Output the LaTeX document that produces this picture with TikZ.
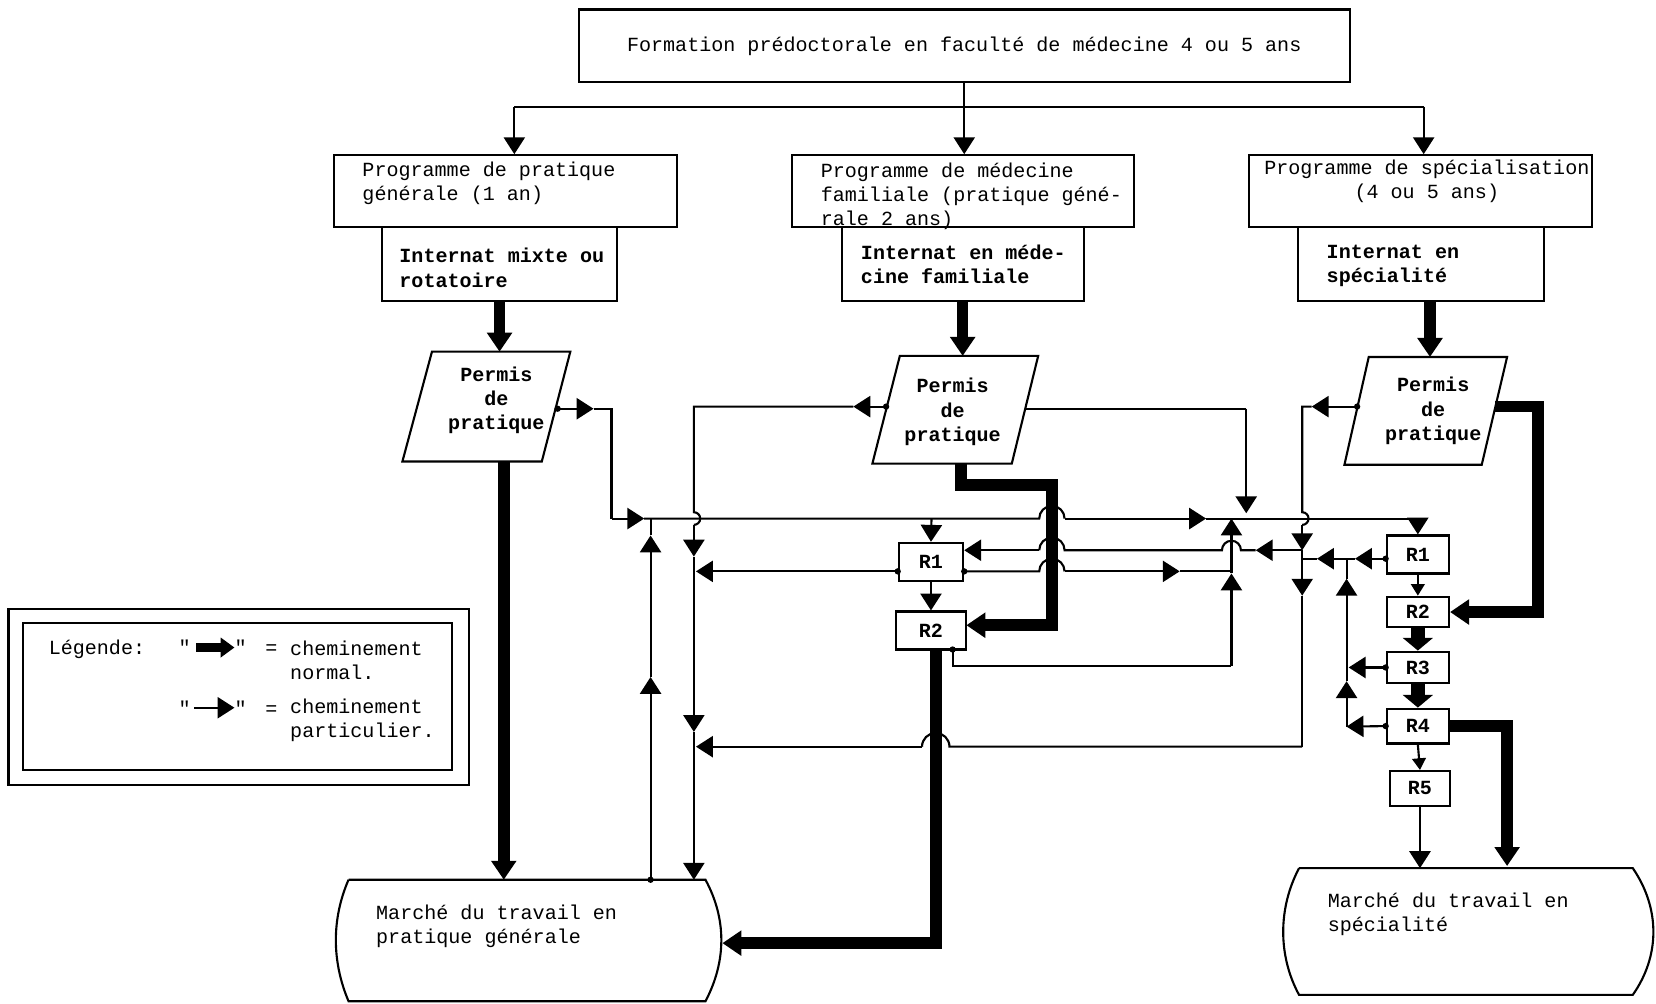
\documentclass[tikz,border=0pt]{standalone}
\usepackage{fontspec}
\setmonofont{Liberation Mono}
\usetikzlibrary{arrows.meta}
\newcommand{\typo}{\ttfamily\fontsize{19}{23}\selectfont}
\tikzset{
	box/.style={draw, line width=2pt, inner sep=0pt},
	txt/.style={inner sep=0pt, align=left, anchor=west},
	heavytxt/.style={font=\typo\bfseries},
	wire/.style={line width=2pt},
	flow/.style={line width=2pt, -{Triangle[length=16pt, width=20pt]}},
	flowsm/.style={line width=2pt, -{Triangle[length=11pt, width=13pt]}},
	heavy/.style={line width=11pt, -{Triangle[length=18pt, width=23pt]}},
	stub/.style={line width=13pt, -{Triangle[length=12pt, width=28pt]}}
}

\begin{document}
\begin{tikzpicture}[x=1pt, y=-1pt, font=\typo]
			%%%%% START %%%%%
			\useasboundingbox (0,0) rectangle (1568,950);
			
			\node[box, minimum width=730pt, minimum height=69pt] (top) at (913,43.5) {Formation prédoctorale en faculté de médecine 4 ou 5 ans};
			
			\node[box, minimum width=325pt, minimum height=68pt] (progGP) at (478.5,181) {};
			\node[box, minimum width=324pt, minimum height=68pt] (progMF) at (912,181) {};
			\node[box, minimum width=324pt, minimum height=68pt] (progSP) at (1345,181) {};
			\node[txt] (progGPt) at (343,173.5) {Programme de pratique\\générale (1 an)};
			\node[txt] (progMFt) at (777,186) {Programme de médecine\\familiale (pratique géné-\\rale 2 ans)};
			\node[txt, align=center, anchor=center] (progSPt) at (1351,171.5) {Programme de spécialisation\\(4 ou 5 ans)};
			
			\node[box, minimum width=222pt, minimum height=70pt] (intGP) at (473,250) {};
			\node[box, minimum width=229pt, minimum height=70pt] (intMF) at (911.5,250) {};
			\node[box, minimum width=233pt, minimum height=70pt] (intSP) at (1345.5,250) {};
			\node[txt, heavytxt] (intGPt) at (378,253.5) {Internat mixte ou\\rotatoire};
			\node[txt, heavytxt] (intMFt) at (815,250.5) {Internat en méde-\\cine familiale};
			\node[txt, heavytxt] (intSPt) at (1256,251.5) {Internat en\\spécialité};
			
			\coordinate (busL) at (487,101);
			\coordinate (busR) at (1348,101);
			\draw[wire] (busL) -- (busR);
			\draw[flow] (top.south) -- (top.south |- progMF.north);
			\draw[flow] (busL) -- (busL |- progGP.north);
			\draw[flow] (busR) -- (busR |- progSP.north);
			
			% permis de pratique
			\draw[wire] (409,333) -- (540,333) -- (513,437) -- (381,437) -- cycle;
			\draw[wire] (852,337) -- (983,337) -- (958,439) -- (826,439) -- cycle;
			\draw[wire] (1296,338) -- (1427,338) -- (1403,440) -- (1273,440) -- cycle;
			\node[txt, heavytxt, align=center, anchor=center] (permGP) at (470,379) {Permis\\de\\pratique};
			\node[txt, heavytxt, align=center, anchor=center] (permMF) at (902,390) {Permis\\de\\pratique};
			\node[txt, heavytxt, align=center, anchor=center] (permSP) at (1357,389) {Permis\\de\\pratique};
			
			\coordinate (pGPtop) at (473,333);
			\coordinate (pGPbot) at (477,437);
			\coordinate (pGPr) at (528,387);
			\coordinate (pMFtop) at (911.5,337);
			\coordinate (pMFbot) at (910,439);
			\coordinate (pMFl) at (839,385);
			\coordinate (pMFr) at (971,387);
			\coordinate (pSPtop) at (1354,338);
			\coordinate (pSPl) at (1285,385);
			\coordinate (pSPr) at (1416,385);
			
			% marches du travail
			\draw[wire] (330,833) -- (668,833) .. controls (688,870) and (688,910) .. (668,948) -- (330,948) .. controls (314,910) and (314,870) .. (330,833);
			\draw[wire] (1230,822) -- (1546,822) .. controls (1572,860) and (1572,905) .. (1546,942) -- (1230,942) .. controls (1210,905) and (1210,860) .. (1230,822);
			\node[txt] (mktGP) at (356,877) {Marché du travail en\\pratique générale};
			\node[txt] (mktSP) at (1257,865.5) {Marché du travail en\\spécialité};
			
			\coordinate (mGPa) at (477,833);
			\coordinate (mGPb) at (616,833);
			\coordinate (mGPc) at (657,833);
			\coordinate (mGPin) at (684,893);
			\coordinate (mSPa) at (1344.5,822);
			\coordinate (mSPb) at (1427,820);
			
			% residences
			\node[box, heavytxt, minimum width=61pt, minimum height=36pt] (R1m) at (881.5,532) {R1};
			\node[box, heavytxt, minimum width=67pt, minimum height=36pt] (R2m) at (881.5,597) {R2};
			\node[box, heavytxt, minimum width=59pt, minimum height=36pt] (R1s) at (1342.5,525) {R1};
			\node[box, heavytxt, minimum width=59pt, minimum height=29pt] (R2s) at (1342.5,579.5) {R2};
			\node[box, heavytxt, minimum width=59pt, minimum height=30pt] (R3s) at (1342.5,632) {R3};
			\node[box, heavytxt, minimum width=59pt, minimum height=33pt] (R4s) at (1342.5,687.5) {R4};
			\node[box, heavytxt, minimum width=57pt, minimum height=33pt] (R5s) at (1344.5,746.5) {R5};
			
			\coordinate (jA) at (579,491);
			\coordinate (jB) at (616,491);
			\coordinate (jC) at (882,491);
			\coordinate (jD) at (1166,491);
			\coordinate (jE) at (1342.5,491);
			\coordinate (kA) at (657,385);
			\coordinate (kB) at (657,541);
			\coordinate (kC) at (657,707);
			\coordinate (lA) at (1233,385);
			\coordinate (lB) at (1233,521);
			\coordinate (lC) at (1233,529);
			\coordinate (lD) at (1233,707);
			\coordinate (mA) at (1275,529);
			\coordinate (mB) at (1275,632);
			\coordinate (mC) at (1275,688);
			\coordinate (nA) at (1166,631);
			\coordinate (nB) at (1166,541);
			\coordinate (R1mL) at (R1m.west |- kB);
			\coordinate (R1mR) at (R1m.east |- kB);
			\coordinate (R1sL) at (R1s.west |- lC);
			\coordinate (R3sL) at (R3s.west);
			\coordinate (R4sL) at (R4s.west);
			\coordinate (R2mdot) at (902,615);
			\coordinate (R2mout) at (886,615);
			\coordinate (R2min) at (915,592);
			
			% cheminements particuliers
			\draw[flow] (pGPr) -- (562,387);
			\draw[wire] (562,387) -| (jA);
			\draw[flow] (jA) -- (610,491);
			\draw[wire] (610,491) -- (984,491) arc[start angle=180, end angle=360, radius=12];
			\draw[flow] (1008,491) -- (1142,491);
			\draw[wire] (1142,491) -- (jE);
			\draw[flow] (jE) -- (R1s.north);
			\draw[flow] (jC) -- (R1m.north);
			
			\draw[flow] (mGPb) -- (616,641);
			\draw[flow] (616,641) -- (616,507);
			\draw[wire] (616,507) -- (jB);
			
			\draw[flow] (pMFl) -- (808,385);
			\draw[wire] (808,385) -- (kA) -- (657,485) arc[start angle=-90, end angle=90, radius=6];
			\draw[flow] (657,497) -- (657,527);
			\draw[flow] (657,527) -- (657,693);
			\draw[flow] (657,693) -- (mGPc);
			\draw[flow] (R1mL) -- ([xshift=2pt]kB);
			
			\draw[wire] (lD) -- (899,707) arc[start angle=0, end angle=-180, radius=13];
			\draw[flow] (873,707) -- ([xshift=2pt]kC);
			
			\draw[flow] (pSPl) -- (1242,385);
			\draw[wire] (1242,385) -- (lA) -- (1233,485) arc[start angle=-90, end angle=90, radius=6];
			\draw[flow] (1233,497) -- (lB);
			\draw[flow] (lB) -- (1233,564);
			\draw[wire] (1233,564) -- (lD);
			
			\draw[flow] (lB) -- (1189,521);
			\draw[wire] (1189,521) -- (1175,521) arc[start angle=0, end angle=-180, radius=9] -- (1008,521) arc[start angle=0, end angle=-180, radius=12];
			\draw[flow] (984,521) -- (R1m.east |- lB);
			
			\draw[flow] (R1sL) -- (1283,529);
			\draw[flow] (1283,529) -- (1247,529);
			\draw[wire] (1247,529) -- (lC);
			
			\draw[flow] (mC) -- (1275,645);
			\draw[flow] (1275,645) -- (1275,548);
			\draw[wire] (1275,548) -- (mA);
			\draw[flow] (R3sL) -- ([xshift=2pt]mB);
			\draw[flow] (R4sL) -- (mC);
			
			\draw[wire] (pMFr) -- (1180,387);
			\draw[flow] (1180,387) -- (1180,486);
			
			\draw[wire] (R2mdot) |- (nA);
			\draw[flow] (nA) -- (1166,543);
			\draw[flow] (1166,543) -- (jD);
			
			\draw[wire] (R1mR) -- (984,541) arc[start angle=180, end angle=360, radius=12];
			\draw[flow] (1008,541) -- (1117,541);
			\draw[wire] (1117,541) -- (nB);
			
			\draw[flow] (R1m.south) -- (R2m.north);
			\draw[flowsm] (R1s.south) -- (R2s.north);
			\draw[flowsm] (R4s.south) -- (R5s.north);
			\draw[flow] (R5s.south) -- (mSPa);
			
			\foreach \p in {pGPr,pMFl,pSPl,R2mdot,mGPb,R1mL,R1mR,R1sL,R3sL,R4sL}
				\fill (\p) circle (3);
			
			% cheminements normaux
			\draw[heavy] (intGP.south) -- (pGPtop);
			\draw[heavy] (intMF.south) -- (pMFtop);
			\draw[heavy] (pSPtop |- intSP.south) -- (pSPtop);
			\draw[heavy] (pGPbot) -- (mGPa);
			\draw[heavy] (pMFbot) -- (910,459) -- (996,459) -- (996,592) -- (R2min);
			\draw[heavy] (R2mout) |- (mGPin);
			\draw[heavy] (pSPr) -- (1456,385) |- (R2s.east);
			\draw[heavy] (R4s.east) -- (1427,687.5) -- (mSPb);
			\draw[stub] (R2s.south) -- (R3s.north);
			\draw[stub] (R3s.south) -- (R4s.north);
			
			% legende
			\draw[wire] (8,577) rectangle (444,743);
			\draw[wire] (22,590) rectangle (428,729);
			\node[txt, anchor=base west] (legT) at (46,620) {Légende:};
			\node[txt, anchor=base west] (q1a) at (169,620) {"};
			\node[txt, anchor=base west] (q1b) at (222,620) {"};
			\node[txt, anchor=base west] (eq1) at (251,620) {=};
			\node[txt] (leg1) at (274.6,625.5) {cheminement\\normal.};
			\node[txt, anchor=base west] (q2a) at (169,677) {"};
			\node[txt, anchor=base west] (q2b) at (222,677) {"};
			\node[txt, anchor=base west] (eq2) at (251,677) {=};
			\node[txt] (leg2) at (274.6,682) {cheminement\\particulier.};
			\draw[line width=8pt, -{Triangle[length=13pt, width=18pt]}] ([xshift=5pt]q1a.east) -- (q1b.west);
			\draw[flow] ([xshift=3pt]q2a.east) -- (q2b.west);
			
			%%%%% END %%%%%
\end{tikzpicture}
\end{document}
